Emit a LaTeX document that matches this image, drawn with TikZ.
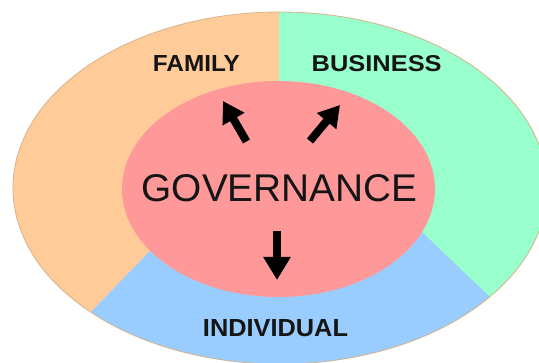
\documentclass[tikz,border=0pt]{standalone}
\usepackage{fontspec}
\setmainfont{Liberation Sans}
\usetikzlibrary{arrows.meta,shapes.geometric}
\definecolor{famcol}{HTML}{FFCC99}
\definecolor{buscol}{HTML}{99FFCC}
\definecolor{indcol}{HTML}{99CCFF}
\definecolor{govcol}{HTML}{FF9999}
\definecolor{rimcol}{HTML}{D9B38C}
\definecolor{txtcol}{HTML}{151515}
\tikzset{
  label/.style={inner sep=0pt, text=txtcol},
  gvarrow/.style={line width=8pt, black, -{Triangle[width=24pt,length=21pt]}},
}
\begin{document}
\begin{tikzpicture}[x=1pt,y=-1pt]
\useasboundingbox (0,0) rectangle (539,363);
\fill[white] (0,0) rectangle (539,363);
% outer segments
\begin{scope}
  \clip (280,188) ellipse [x radius=267, y radius=176];
  \fill[famcol] (0,0) rectangle (600,400);
  \fill[buscol] (279,-20) rectangle (620,420);
  \fill[indcol] (290,106) -- (-142,553) -- (760,555) -- cycle;
\end{scope}
\draw[rimcol, line width=0.8pt] (280,188) ellipse [x radius=267, y radius=176];
% inner ellipse
\node[ellipse, minimum width=313pt, minimum height=216pt, fill=govcol, inner sep=0pt] (gov) at (278.5,189) {};
\node[label] (govtext) at (279.7,188.4) {\resizebox{276pt}{27pt}{GOVERNANCE}};
% labels
\node[label] (family) at (196.4,64) {\resizebox{87pt}{16pt}{\bfseries FAMILY}};
\node[label] (business) at (376.7,64) {\resizebox{130pt}{16pt}{\bfseries BUSINESS}};
\node[label] (individual) at (275.5,328.5) {\resizebox{145pt}{17pt}{\bfseries INDIVIDUAL}};
% arrows
\coordinate (ltail) at (246.5,141.5);
\coordinate (ltip) at (223,101);
\coordinate (rtail) at (310,141);
\coordinate (rtip) at (340,105);
\coordinate (dtail) at (277,231);
\coordinate (dtip) at (277,280);
\draw[gvarrow] (ltail) -- (ltip);
\draw[gvarrow] (rtail) -- (rtip);
\draw[gvarrow, -{Triangle[width=26pt,length=23pt]}] (dtail) -- (dtip);
\end{tikzpicture}
\end{document}
